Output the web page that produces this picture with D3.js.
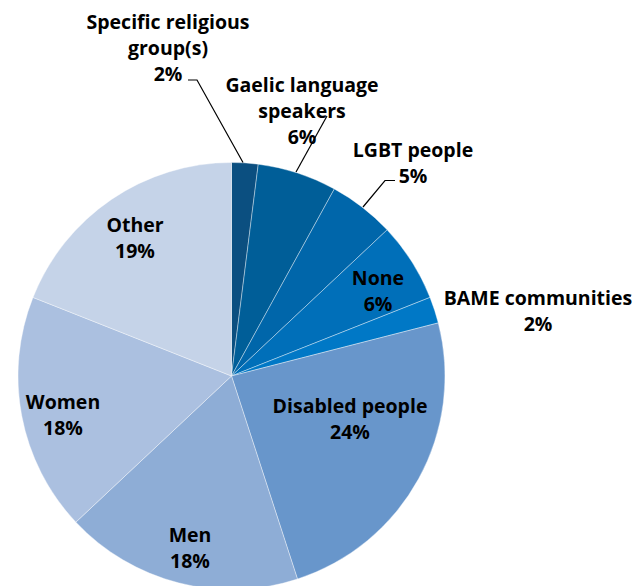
<!DOCTYPE html>
<html>
<head>
<meta charset="utf-8">
<script src="https://cdn.jsdelivr.net/npm/d3@7/dist/d3.min.js"></script>
<style>
  html, body { margin: 0; padding: 0; background: #fff; }
  svg { display: block; }
  text { font-family: "Open Sans", "Noto Sans", sans-serif; font-weight: 700; font-size: 19.5px; fill: #000; }
</style>
</head>
<body>
<svg id="chart" width="639" height="586"></svg>
<script>
// Groups targeted, share of responses (%)
const categories = [
  "Specific religious group(s)",
  "Gaelic language speakers",
  "LGBT people",
  "None",
  "BAME communities",
  "Disabled people",
  "Men",
  "Women",
  "Other"
];
const values = [2, 6, 5, 6, 2, 24, 18, 18, 19];
const colors = ["#0b4f80", "#005e98", "#0066aa", "#006fb9", "#0078c6", "#6896cb", "#8eadd6", "#abc0e0", "#c5d3e8"];

// Label text lines for each slice (last line is the percentage)
const labelLines = [
  ["Specific religious", "group(s)"],
  ["Gaelic language", "speakers"],
  ["LGBT people"],
  ["None"],
  ["BAME communities"],
  ["Disabled people"],
  ["Men"],
  ["Women"],
  ["Other"]
];
// Label anchor positions (centre of the first line) and leader lines
const labelPos = [[168, 22], [302, 85], [413, 150], [378, 278], [538, 298], [350, 406], [190, 535], [63, 402], [135, 225]];
const leaders = {
  0: [[188, 80], [197, 80], [243, 162.5]],
  1: [[327, 116], [296, 172]],
  2: [[395, 180.5], [385, 180.5], [363, 207]]
};

const svg = d3.select("#chart");
const cx = 231.5, cy = 376, r = 213.5;

const data = categories.map((c, i) => ({ name: c, value: values[i], color: colors[i] }));

const pie = d3.pie().value(d => d.value).sort(null);
const arc = d3.arc().innerRadius(0).outerRadius(r);

const g = svg.append("g").attr("transform", `translate(${cx},${cy})`);
g.selectAll("path")
  .data(pie(data))
  .join("path")
  .attr("d", arc)
  .attr("fill", d => d.data.color)
  .attr("stroke", "rgba(255,255,255,0.55)")
  .attr("stroke-width", 0.7);

// Leader lines
const line = d3.line();
Object.entries(leaders).forEach(([i, pts]) => {
  svg.append("path")
    .attr("d", line(pts))
    .attr("fill", "none")
    .attr("stroke", "#000")
    .attr("stroke-width", 1.2);
});

// Labels
const lineH = 26;
data.forEach((d, i) => {
  const [x, y] = labelPos[i];
  const lines = labelLines[i].concat([d.value + "%"]);
  const t = svg.append("text")
    .attr("text-anchor", "middle")
    .attr("x", x)
    .attr("y", y);
  lines.forEach((s, k) => {
    t.append("tspan")
      .attr("x", x)
      .attr("y", y + k * lineH)
      .attr("dy", "0.35em")
      .text(s);
  });
});
</script>
</body>
</html>
